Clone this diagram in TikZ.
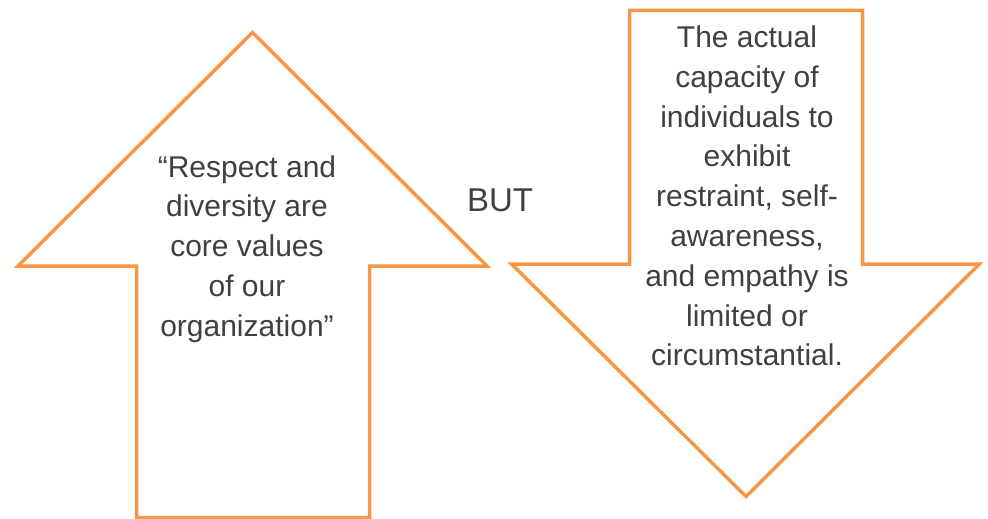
\documentclass[tikz,border=0pt]{standalone}
\usepackage{fontspec}
\setmainfont{Liberation Sans}
\usepackage{xcolor}
\usepackage{tikz}
\usetikzlibrary{positioning}

\definecolor{arroworange}{HTML}{F79646}
\definecolor{textgray}{HTML}{404040}

\begin{document}
\begin{tikzpicture}[
    x=1pt, y=-1pt,
    bigarrow/.style={draw=arroworange, line width=3.5pt, line join=miter, fill=white},
    arrowtext/.style={align=center, text=textgray, inner sep=0pt, font=\fontsize{30}{39.8}\selectfont}
]
\useasboundingbox (0,0) rectangle (988,519);

% Up arrow
\draw[bigarrow] (252.5,32.5) -- (18,266) -- (136.5,266) -- (136.5,517.5)
    -- (369.5,517.5) -- (369.5,266) -- (487,266) -- cycle;
\node[arrowtext] (upText) at (247,249) {``Respect and\\diversity are\\core values\\of our\\organization''};

% Down arrow
\draw[bigarrow] (629.5,10.5) -- (862.5,10.5) -- (862.5,264) -- (979.5,264)
    -- (746,496.5) -- (511.5,264) -- (629.5,264) -- cycle;
\node[arrowtext] (downText) at (747,196) {The actual\\capacity of\\individuals to\\exhibit\\restraint, self-\\awareness,\\and empathy is\\limited or\\circumstantial.};

% Middle word
\node[arrowtext, font=\fontsize{33}{40}\selectfont] (but) at (500,200) {BUT};

\end{tikzpicture}
\end{document}
